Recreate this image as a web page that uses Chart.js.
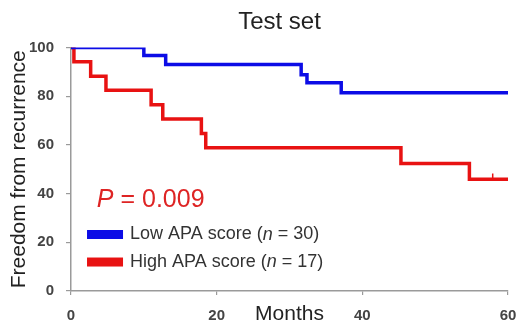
<!DOCTYPE html>
<html>
<head>
<meta charset="utf-8">
<script src="https://cdn.jsdelivr.net/npm/chart.js@4.4.0/dist/chart.umd.min.js"></script>
<style>
  html, body { margin: 0; padding: 0; background: #fff; }
  #wrap { width: 518px; height: 328px; }
</style>
</head>
<body>
<div id="wrap"><canvas id="kmChart" width="518" height="328"></canvas></div>
<script>
// Kaplan-Meier steps: month of drop and new survival value (%)
const lowMonths = [0, 10, 13, 31.6, 32.4, 37.1, 60];
const lowValues = [100, 96.7, 93.0, 88.8, 85.5, 81.4, 81.4];
const highMonths = [0, 0.4, 2.7, 4.8, 11, 12.6, 17.9, 18.5, 45.3, 54.7, 60];
const highValues = [100, 94.1, 88.2, 82.4, 76.5, 70.6, 64.7, 58.8, 52.4, 45.9, 45.9];
const censorMonths = [57.9];
const censorValues = [47];

const seriesLabels = ['Low APA score', 'High APA score'];
const seriesN = [30, 17];
const pValue = '0.009';
const titleText = 'Test set';
const xTicks = [0, 20, 40, 60];
const yTicks = [0, 20, 40, 60, 80, 100];

const BLUE = 'rgb(12, 12, 230)';
const RED = 'rgb(232, 18, 18)';
const FONT = "'Liberation Sans', Arial, sans-serif";

const toPoints = (xs, ys) => xs.map((x, i) => ({ x: x, y: ys[i] }));

// draws a line of text made of pieces with different fonts (for the italic n / P)
function drawRuns(ctx, x, y, runs, color) {
    ctx.fillStyle = color;
    runs.forEach(r => {
        ctx.font = r.font;
        ctx.fillText(r.text, x, y);
        x += ctx.measureText(r.text).width;
    });
}

const annotations = {
    id: 'annotations',
    afterDraw(chart) {
        const ctx = chart.ctx;
        const xs = chart.scales.x, ys = chart.scales.y;
        ctx.save();
        ctx.textAlign = 'center';
        ctx.textBaseline = 'middle';
        ctx.fillStyle = '#222';
        ctx.font = '24px ' + FONT;
        ctx.fillText(titleText, (chart.chartArea.left + chart.chartArea.right) / 2 - 10, 22);

        ctx.textAlign = 'left';
        ctx.textBaseline = 'alphabetic';
        drawRuns(ctx, xs.getPixelForValue(3.55), ys.getPixelForValue(34.5), [
            { text: 'P', font: 'italic 25px ' + FONT },
            { text: ' = ' + pValue, font: '25px ' + FONT }
        ], 'rgb(222, 36, 36)');

        const colors = [BLUE, RED];
        const rowY = [23.2, 11.9];
        ctx.textBaseline = 'middle';
        seriesLabels.forEach((lab, i) => {
            const cy = ys.getPixelForValue(rowY[i]);
            const bx = xs.getPixelForValue(2.2);
            ctx.fillStyle = colors[i];
            ctx.fillRect(bx, cy - 4.5, 36, 9);
            drawRuns(ctx, xs.getPixelForValue(8.1), cy, [
                { text: lab + ' (', font: '18px ' + FONT },
                { text: 'n', font: 'italic 18px ' + FONT },
                { text: ' = ' + seriesN[i] + ')', font: '18px ' + FONT }
            ], '#333');
        });
        ctx.restore();
    }
};

const ctx = document.getElementById('kmChart').getContext('2d');
const chart = new Chart(ctx, {
    type: 'line',
    data: {
        datasets: [{
            label: seriesLabels[0],
            data: toPoints(lowMonths, lowValues),
            borderColor: BLUE,
            borderWidth: 3.5,
            stepped: 'before',
            pointRadius: 0,
            fill: false
        }, {
            label: seriesLabels[1],
            data: toPoints(highMonths, highValues),
            borderColor: RED,
            borderWidth: 3.5,
            stepped: 'before',
            pointRadius: 0,
            fill: false
        }, {
            label: 'censored',
            data: toPoints(censorMonths, censorValues),
            showLine: false,
            pointStyle: 'line',
            rotation: 90,
            pointRadius: 3,
            borderColor: RED,
            borderWidth: 1.5
        }]
    },
    options: {
        responsive: false,
        animation: false,
        events: [],
        layout: { padding: { top: 47.5, right: 10, bottom: 0, left: 0 } },
        scales: {
            x: {
                type: 'linear',
                min: 0,
                max: 60,
                afterBuildTicks: s => { s.ticks = xTicks.map(v => ({ value: v })); },
                afterFit: s => { s.height = 37; s.paddingLeft = 0; s.paddingRight = 0; },
                grid: { drawOnChartArea: false, drawTicks: true, tickLength: 4, color: '#9a9a9a', lineWidth: 1.2 },
                border: { display: true, color: '#9a9a9a', width: 1.5 },
                ticks: { color: '#444', font: { family: FONT, size: 15, weight: 'bold' }, padding: 12, maxRotation: 0 },
                title: { display: true, text: 'Months', color: '#222', font: { family: FONT, size: 21 }, padding: { top: 0, bottom: 1 } }
            },
            y: {
                min: 0,
                max: 100,
                afterBuildTicks: s => { s.ticks = yTicks.map(v => ({ value: v })); },
                afterFit: s => { s.width = 71; },
                grid: { drawOnChartArea: false, drawTicks: true, tickLength: 5, color: '#9a9a9a', lineWidth: 1.2 },
                border: { display: true, color: '#9a9a9a', width: 1.5 },
                ticks: { color: '#444', font: { family: FONT, size: 15, weight: 'bold' }, padding: 12 },
                title: { display: true, text: 'Freedom from recurrence', color: '#222', font: { family: FONT, size: 21 }, padding: { top: 7, bottom: 0 } }
            }
        },
        plugins: {
            legend: { display: false },
            title: { display: false },
            tooltip: { enabled: false }
        }
    },
    plugins: [annotations]
});
</script>
</body>
</html>
